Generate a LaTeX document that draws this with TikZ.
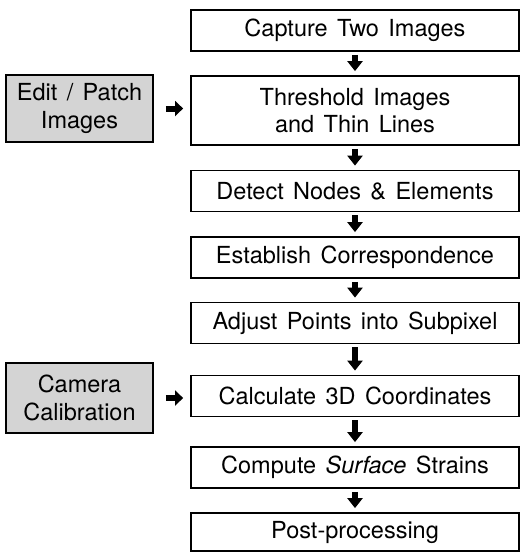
\documentclass[tikz,border=0pt]{standalone}
\usepackage{fontspec}
\setmainfont{TeX Gyre Heros}
\usetikzlibrary{arrows.meta}
\newcommand\boxfont{\fontsize{23.5}{27.5}\selectfont\spaceskip=0.4em plus 0.1em\relax}
\tikzset{
	stepbox/.style={draw, line width=1.8pt, minimum width=328pt, minimum height=41pt, inner sep=0pt, align=center, font=\boxfont},
	sidebox/.style={draw, line width=1.8pt, fill=black!17, minimum width=147pt, inner sep=0pt, align=center, font=\boxfont},
	flow/.style={line width=6pt, -{Triangle[length=10pt,width=15pt]}, shorten <=3pt, shorten >=4pt},
	feed/.style={line width=6pt, -{Triangle[length=8pt,width=15pt]}, shorten <=12pt, shorten >=7pt},
}
\begin{document}
\begin{tikzpicture}[x=1pt,y=-1pt]
		\useasboundingbox (0,0) rectangle (521,552);
		\node (a)[stepbox] at (355,30.5) {Capture Two Images};
		\node (b)[stepbox, minimum height=69pt] at (355,110.5) {Threshold Images\\and Thin Lines};
		\node (c)[stepbox] at (355,191) {Detect Nodes \& Elements};
		\node (d)[stepbox] at (355,257.5) {Establish Correspondence};
		\node (e)[stepbox] at (355,323) {Adjust Points into Subpixel};
		\node (f)[stepbox] at (355,396) {Calculate 3D Coordinates};
		\node (g)[stepbox] at (355,467.5) {Compute \textit{Surface} Strains};
		\node (h)[stepbox, minimum height=38pt] at (355,532) {Post-processing};
		%
		\node (p)[sidebox, minimum height=67pt] at (79.5,108.5) {Edit / Patch\\Images};
		\node (q)[sidebox, minimum height=70pt] at (79.5,398) {Camera\\Calibration};
		%
		\draw [flow](a)--(b);
		\draw [flow](b)--(c);
		\draw [flow](c)--(d);
		\draw [flow](d)--(e);
		\draw [flow](e)--(f);
		\draw [flow](f)--(g);
		\draw [flow](g)--(h);
		\draw [feed](p.east)--(p.east-|b.west);
		\draw [feed](q.east)--(q.east-|f.west);
	\end{tikzpicture}
\end{document}
